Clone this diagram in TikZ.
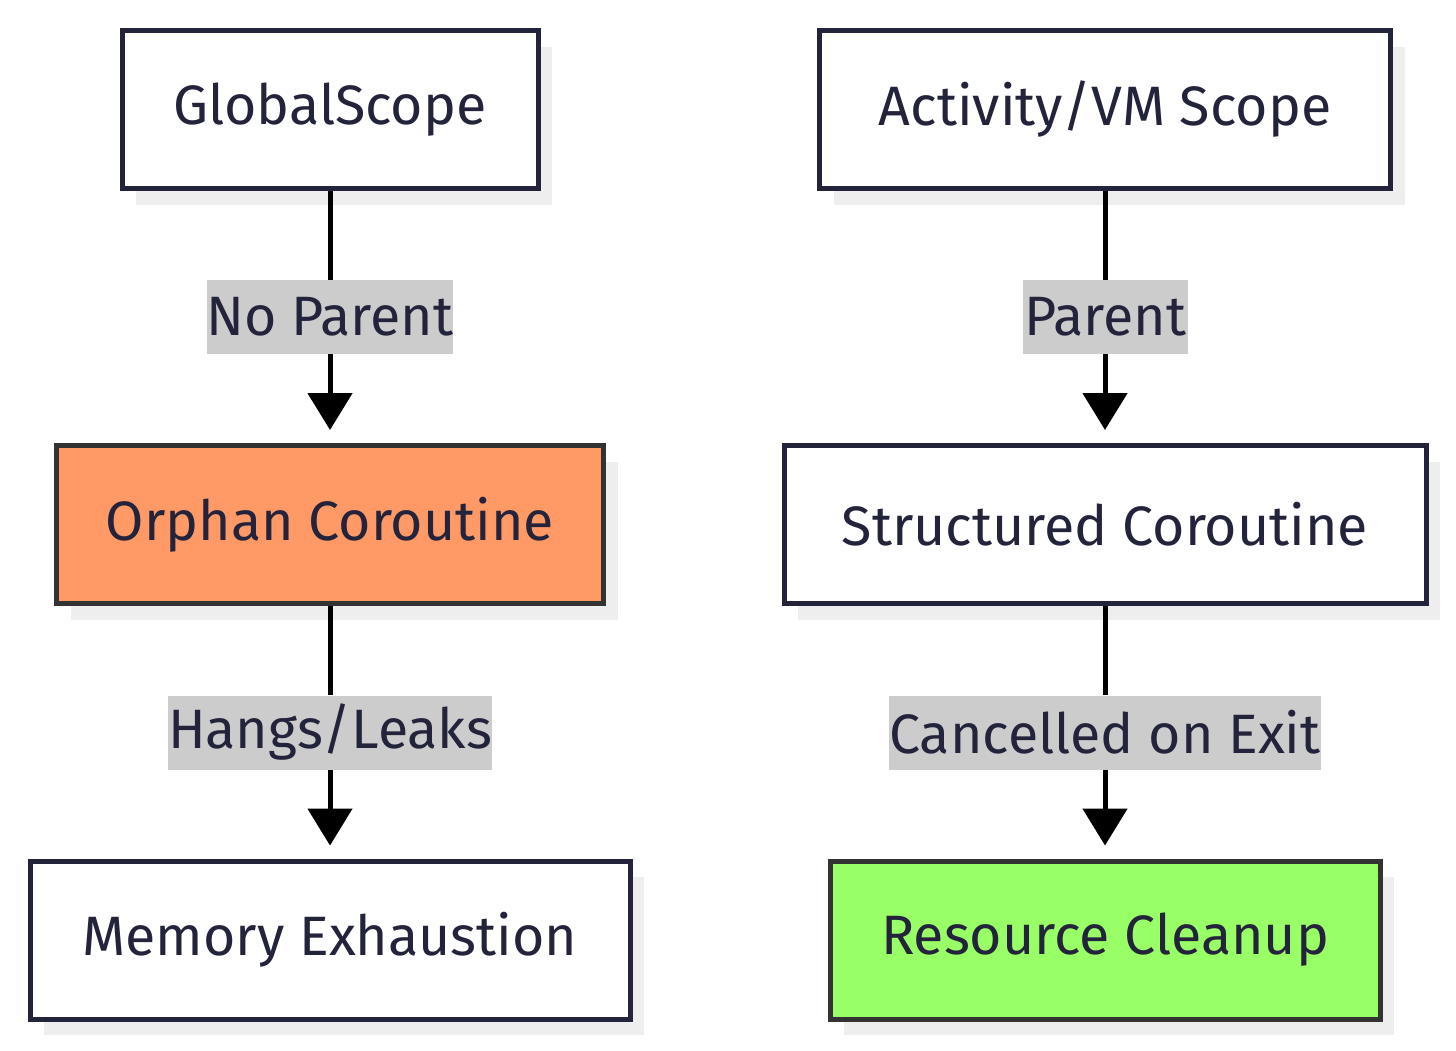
\documentclass[tikz,border=0pt]{standalone}
\usepackage{fontspec}
\setmainfont{Fira Sans}
\usetikzlibrary{arrows.meta,shadows}
\definecolor{navy}{HTML}{23233B}
\definecolor{txt}{HTML}{23233B}
\definecolor{dgray}{HTML}{333333}
\definecolor{orangefill}{HTML}{FF9966}
\definecolor{greenfill}{HTML}{99FF66}
\definecolor{lblfill}{HTML}{CCCCCC}
\definecolor{shadowc}{HTML}{EEEEEE}
\tikzset{
  box/.style={draw=navy, line width=5pt, fill=white, minimum height=158pt, inner sep=0pt,
    font=\fontsize{55.5}{66}\selectfont, text=txt,
    drop shadow={shadow xshift=14pt, shadow yshift=-16pt, fill=shadowc, opacity=1}},
  hot/.style={draw=dgray, fill=orangefill},
  good/.style={draw=dgray, fill=greenfill},
  lbl/.style={fill=lblfill, font=\fontsize{55.5}{66}\selectfont, text=txt, inner sep=0pt, minimum height=74pt},
  conn/.style={line width=5pt, -{Triangle[length=37pt,width=44pt]}, shorten >=13pt},
  plain/.style={line width=5pt}
}
\begin{document}
\begin{tikzpicture}[x=1pt,y=-1pt]
\useasboundingbox (0,0) rectangle (1456,1050);
\node[box, minimum width=416pt] (gs) at (330,109.5) {GlobalScope};
\node[box, minimum width=571pt] (avm) at (1105,109.5) {Activity/VM Scope};
\node[box, hot, minimum width=547pt] (orph) at (330,524.5) {Orphan Coroutine};
\node[box, minimum width=642pt] (str) at (1105,524.5) {Structured Coroutine};
\node[box, minimum width=600pt] (mem) at (330,940) {Memory Exhaustion};
\node[box, good, minimum width=550pt] (res) at (1105,940) {Resource Cleanup};

\node[lbl, minimum width=240pt] (l1) at (330,317) {No Parent};
\node[lbl, minimum width=165pt] (l2) at (1105,317) {Parent};
\node[lbl, minimum width=322pt] (l3) at (330,732.5) {Hangs/Leaks};
\node[lbl, minimum width=430pt] (l4) at (1105,732.5) {Cancelled on Exit};

\draw[plain] (gs.south) -- (l1.north);
\draw[conn] (l1.south) -- (orph.north);
\draw[plain] (avm.south) -- (l2.north);
\draw[conn] (l2.south) -- (str.north);
\draw[plain] (orph.south) -- (l3.north);
\draw[conn] (l3.south) -- (mem.north);
\draw[plain] (str.south) -- (l4.north);
\draw[conn] (l4.south) -- (res.north);
\end{tikzpicture}
\end{document}
